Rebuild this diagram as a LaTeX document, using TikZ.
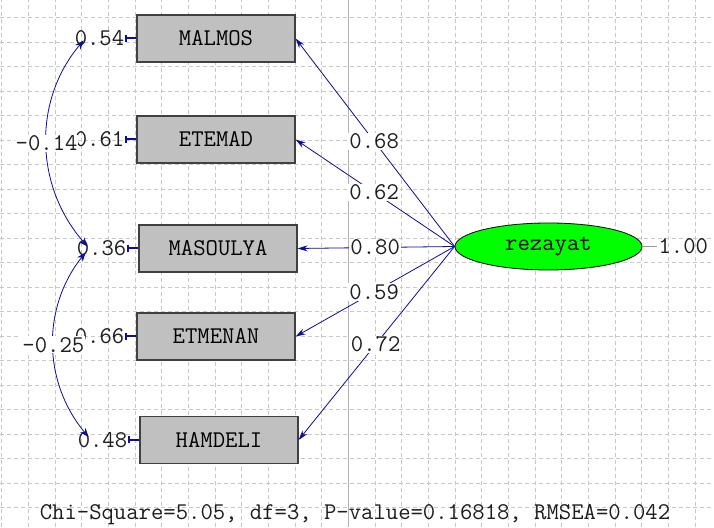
\documentclass[tikz,border=0pt]{standalone}
\usepackage{fontspec}
\usetikzlibrary{arrows.meta,positioning,shapes.geometric}
\definecolor{Navy}{HTML}{0C0C9E}
\definecolor{GridGray}{HTML}{C8C8C8}
\definecolor{BoxGray}{HTML}{C0C0C0}
\definecolor{Lime}{HTML}{00FF00}
\definecolor{Ink}{HTML}{1E1E1E}

\begin{document}
\begin{tikzpicture}[x=1pt,y=1pt,
  num/.style={font=\ttfamily\fontsize{24}{26}\selectfont,text=Ink,inner sep=1pt},
  lab/.style={num,fill=white},
  obs/.style={draw=black!75,line width=1.2pt,fill=BoxGray,minimum width=158pt,minimum height=47pt,inner sep=0pt,font=\ttfamily\fontsize{24}{26}\selectfont},
  load/.style={Navy,line width=.8pt,-{Stealth[length=10pt,width=6pt]}},
  err/.style={Navy,line width=2pt,{Bar[width=7pt]}-},
  cov/.style={Navy,line width=.8pt,{Stealth[length=9pt,width=7pt]}-{Stealth[length=9pt,width=7pt]}},
  gridline/.style={GridGray,line width=.6pt,dash pattern=on 4pt off 3pt}]
\useasboundingbox (0,0) rectangle (714,527);
\fill[white] (0,0) rectangle (714,527);
% background grid
\foreach \i in {0,...,26}{\draw[gridline] ({1.67+26.67*\i},0) -- ++(0,527);}
\foreach \j in {0,...,20}{\draw[gridline] (0,{509.3-24.5*\j}) -- ++(714,0);}
\draw[black!30,line width=1pt] (348.3,0) -- (348.3,527);
% observed variables and the latent one
\node[obs] (malmos) at (216,488.5) {MALMOS};
\node[obs] (etemad) at (216,387.5) {ETEMAD};
\node[obs] (masoulya) at (218,278.5) {MASOULYA};
\node[obs] (etmenan) at (216,190.5) {ETMENAN};
\node[obs] (hamdeli) at (219,87) {HAMDELI};
\node[ellipse,draw=black,line width=.8pt,fill=Lime,minimum width=187pt,minimum height=47pt,inner sep=0pt,font=\ttfamily\fontsize{24}{26}\selectfont] (rezayat) at (548.5,280.5) {rezayat};
\node[num,right=15pt of rezayat] (var) {1.00};
\draw[black!40,line width=.8pt] (rezayat.east) -- (var.west);
% error variances
\foreach \b/\v/\n in {malmos/0.54/e1,etemad/0.61/e2,masoulya/0.36/e3,etmenan/0.66/e4,hamdeli/0.48/e5}{
  \node[num,left=11pt of \b] (\n) {\v};
  \draw[err] (\n.east) -- (\b.west);}
% loadings
\foreach \b/\v in {malmos/0.68,etemad/0.62,masoulya/0.80,etmenan/0.59,hamdeli/0.72}{
  \draw[load] (rezayat.west) -- node[lab,pos=.506]{\v} (\b.east);}
% error covariances
\draw[cov] ([shift={(10,-2)}]e1.west) .. controls +(-51,-60) and +(-53,60) .. node[lab]{-0.14} ([shift={(12,2)}]e3.west);
\draw[cov] ([shift={(10,-4)}]e3.west) .. controls +(-44,-55) and +(-46,55) .. node[lab]{-0.25} ([shift={(12,3)}]e5.west);
\node[num] (fit) at (355,12) {Chi-Square=5.05, df=3, P-value=0.16818, RMSEA=0.042};
\end{tikzpicture}
\end{document}
